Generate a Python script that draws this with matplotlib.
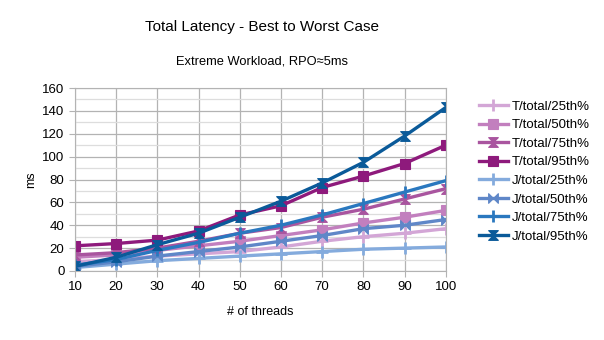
import matplotlib
matplotlib.use('Agg')
import matplotlib.pyplot as plt
from matplotlib.path import Path
from matplotlib.ticker import MultipleLocator

plt.rcParams['font.family'] = ['Liberation Sans', 'DejaVu Sans']

# data
threads = [10, 20, 30, 40, 50, 60, 70, 80, 90, 100]
t_25 = [8, 10, 13, 15, 17, 21, 26, 30, 33, 37]
t_50 = [12, 14, 18, 22, 26, 31, 36, 42, 47, 53]
t_75 = [14, 16, 20, 26, 33, 38, 47, 54, 63, 72]
t_95 = [22, 24, 27, 35, 49, 57, 73, 83, 94, 110]
j_25 = [3, 6, 9, 11, 13, 15, 17, 19, 20, 21]
j_50 = [4, 8, 13, 17, 21, 26, 31, 37, 40, 45]
j_75 = [5, 10, 18, 25, 33, 40, 49, 59, 69, 79]
j_95 = [4, 12, 23, 33, 47, 61, 77, 95, 118, 143]

labels = ['T/total/25th%', 'T/total/50th%', 'T/total/75th%', 'T/total/95th%',
          'J/total/25th%', 'J/total/50th%', 'J/total/75th%', 'J/total/95th%']
series = [t_25, t_50, t_75, t_95, j_25, j_50, j_75, j_95]

# marker shapes
hourglass = Path([(-1, 1), (1, 1), (-1, -1), (1, -1), (-1, 1)],
                 [Path.MOVETO, Path.LINETO, Path.LINETO, Path.LINETO, Path.CLOSEPOLY])
bowtie = Path([(-1, 1), (-1, -1), (1, 1), (1, -1), (-1, 1)],
              [Path.MOVETO, Path.LINETO, Path.LINETO, Path.LINETO, Path.CLOSEPOLY])

colors = ['#d3a6d6', '#c27fbe', '#a9559f', '#8e1a7c',
          '#84abdd', '#5f87c8', '#2a78bf', '#0a5a99']
markers = ['+', 's', hourglass, 's', '+', bowtie, '|', hourglass]
sizes = [8, 7, 7, 7, 8, 7, 9, 7]

fig = plt.figure(figsize=(6.04, 3.4), dpi=100)
ax = fig.add_axes([0.124, 0.203, 0.614, 0.538])

for vals, lab, col, mk, ms in zip(series, labels, colors, markers, sizes):
    ax.plot(threads, vals, color=col, linewidth=2.4, marker=mk, markersize=ms,
            markeredgewidth=2 if mk in ('+', '|') else 0.8,
            markeredgecolor=col, label=lab)

ax.set_xlim(10, 100)
ax.set_ylim(0, 160)
ax.set_xticks(threads)
ax.yaxis.set_major_locator(MultipleLocator(20))
ax.yaxis.set_minor_locator(MultipleLocator(10))
ax.grid(which='major', color='#b3b3b3', linewidth=0.9)
ax.grid(which='minor', axis='y', color='#dddddd', linewidth=0.9)
ax.set_axisbelow(True)
for s in ax.spines.values():
    s.set_color('#b3b3b3')
ax.tick_params(which='both', colors='#b3b3b3', labelcolor='black', labelsize=9.5, length=4)
ax.tick_params(which='minor', length=0)

ax.set_xlabel('# of threads', fontsize=9, labelpad=9)
ax.set_ylabel('ms', fontsize=9)

fig.text(0.434, 0.92, 'Total Latency - Best to Worst Case', ha='center', va='center', fontsize=11)
fig.text(0.434, 0.818, 'Extreme Workload, RPO\u22485ms', ha='center', va='center', fontsize=9.3)

ax.legend(loc='upper left', bbox_to_anchor=(1.06, 0.99), frameon=False, fontsize=9.5,
          handlelength=2.2, labelspacing=0.48, borderaxespad=0.4, handletextpad=0.3)

fig.savefig('out.png', dpi=100)
